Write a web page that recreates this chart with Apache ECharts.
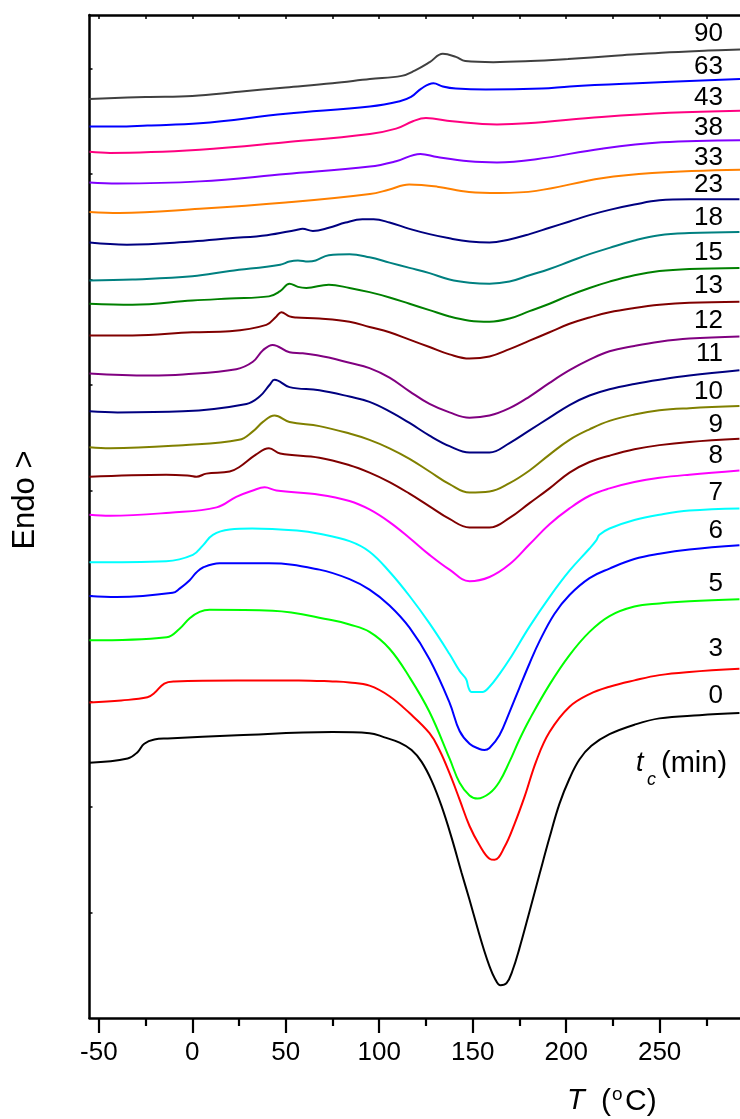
<!DOCTYPE html>
<html>
<head>
<meta charset="utf-8">
<script src="https://cdn.jsdelivr.net/npm/echarts@6/dist/echarts.min.js"></script>
<style>
  html, body { margin: 0; padding: 0; background: #fff; }
  #chart { width: 740px; height: 1119px; }
</style>
</head>
<body>
<div id="chart"></div>
<script>
// Crystallization time t_c (min) of each DSC heating trace, top trace first
const crystTimes = ['90', '63', '43', '38', '33', '23', '18', '15', '13', '12', '11', '10', '9', '8', '7', '6', '5', '3', '0'];

// Heating traces: [temperature (°C), heat flow (a.u., traces shifted vertically)]
const trace90 = [[-55,8.71],[-25,8.73],[0,8.74],[25,8.78],[50,8.82],[75,8.86],[95,8.90],[112,8.93],[119,8.98],[127,9.06],[134,9.14],[141,9.11],[146,9.07],[161,9.06],[181,9.07],[201,9.09],[226,9.12],[251,9.15],[276,9.17],[293,9.18]];
const trace63 = [[-55,8.45],[-40,8.45],[-24,8.46],[4,8.48],[50,8.57],[95,8.64],[111,8.69],[117,8.73],[122.5,8.81],[129,8.86],[134,8.83],[141,8.81],[157,8.80],[187,8.81],[202,8.83],[238,8.86],[293,8.90]];
const trace43 = [[-55,8.21],[-44,8.20],[4,8.23],[50,8.30],[95,8.38],[109,8.43],[118,8.50],[125,8.53],[139,8.50],[163,8.47],[179,8.48],[219,8.54],[255,8.58],[293,8.60]];
const trace38 = [[-55,7.92],[-40,7.91],[4,7.93],[50,8.00],[95,8.07],[109,8.12],[122,8.19],[131,8.16],[148,8.12],[163,8.11],[184,8.14],[219,8.24],[251,8.30],[293,8.32]];
const trace33 = [[-55,7.64],[-39,7.63],[4,7.67],[50,7.73],[95,7.81],[105,7.85],[116,7.90],[131,7.88],[148,7.83],[164,7.82],[184,7.84],[219,7.96],[246,8.01],[293,8.04]];
const trace23 = [[-55,7.35],[-35,7.33],[0,7.36],[20,7.39],[40,7.42],[55.6,7.47],[59,7.48],[64.5,7.46],[73,7.49],[82,7.54],[91,7.57],[97,7.57],[105.5,7.54],[116.2,7.48],[126.9,7.43],[137.6,7.39],[148.3,7.36],[159,7.35],[169.7,7.38],[180.4,7.43],[191.1,7.49],[201.8,7.55],[212.5,7.61],[223.2,7.66],[236.5,7.71],[249.9,7.75],[265.9,7.76],[292.7,7.76]];
const trace18 = [[-55,6.99],[-32,7.00],[0,7.03],[20,7.08],[47,7.14],[52,7.17],[56.5,7.18],[62,7.17],[66,7.18],[73,7.23],[84.1,7.24],[94.8,7.21],[105.5,7.16],[116.2,7.11],[126.9,7.06],[137.6,7.00],[148.3,6.97],[159,6.96],[169.7,6.98],[180.4,7.04],[191.1,7.10],[201.8,7.17],[212.5,7.24],[223.2,7.30],[236.5,7.37],[249.9,7.42],[265.9,7.44],[292.7,7.45]];
const trace15 = [[-55,6.77],[-32,6.76],[0,6.80],[20,6.82],[41,6.84],[47,6.89],[52,6.96],[56.5,6.93],[61,6.92],[73,6.95],[84.1,6.92],[94.8,6.88],[105.5,6.83],[116.2,6.77],[126.9,6.71],[137.6,6.65],[148.3,6.61],[159,6.60],[169.7,6.63],[180.4,6.70],[191.1,6.77],[201.8,6.85],[212.5,6.92],[223.2,6.98],[236.5,7.04],[249.9,7.08],[265.9,7.10],[292.7,7.11]];
const trace13 = [[-55,6.47],[-32,6.47],[0,6.50],[20,6.51],[39.6,6.57],[45,6.65],[47.6,6.69],[52,6.65],[55.6,6.64],[68,6.63],[84.1,6.60],[94.8,6.55],[105.5,6.50],[116.2,6.43],[126.9,6.36],[137.6,6.29],[148.3,6.25],[159,6.27],[169.7,6.34],[180.4,6.42],[191.1,6.50],[201.8,6.58],[212.5,6.64],[223.2,6.69],[236.5,6.73],[249.9,6.76],[265.9,6.78],[292.7,6.79]];
const trace12 = [[-55,6.11],[-23,6.09],[-5,6.10],[23.5,6.15],[32.4,6.22],[37.8,6.33],[43,6.38],[52,6.31],[59,6.30],[73,6.26],[84.1,6.21],[94.8,6.16],[105.5,6.07],[116.2,5.94],[126.9,5.82],[137.6,5.74],[148.3,5.69],[159,5.71],[169.7,5.78],[180.4,5.89],[191.1,6.02],[201.8,6.14],[212.5,6.24],[223.2,6.32],[236.5,6.37],[249.9,6.41],[265.9,6.44],[292.7,6.46]];
const trace11 = [[-55,5.75],[-40,5.74],[-5,5.75],[29,5.82],[36,5.89],[41.3,6.00],[44,6.05],[52,5.98],[68,5.95],[84.1,5.89],[94.8,5.84],[105.5,5.75],[116.2,5.64],[126.9,5.52],[137.6,5.42],[148.3,5.36],[159,5.36],[169.7,5.45],[180.4,5.57],[191.1,5.69],[201.8,5.81],[212.5,5.90],[223.2,5.96],[236.5,6.01],[249.9,6.05],[265.9,6.09],[292.7,6.14]];
const trace10 = [[-55,5.41],[-44,5.40],[-5,5.43],[25,5.48],[32.4,5.56],[37.8,5.65],[44,5.71],[52,5.65],[68,5.61],[84.1,5.54],[94.8,5.48],[105.5,5.40],[116.2,5.30],[126.9,5.18],[137.6,5.06],[148.3,4.98],[159,4.99],[169.7,5.07],[180.4,5.19],[191.1,5.34],[201.8,5.48],[212.5,5.58],[223.2,5.66],[236.5,5.72],[249.9,5.76],[265.9,5.78],[292.7,5.80]];
const trace9 = [[-55,5.13],[-14,5.15],[-1.4,5.14],[2.2,5.13],[7.5,5.16],[20,5.18],[25,5.22],[34,5.34],[41,5.40],[47,5.35],[68,5.31],[84.1,5.24],[94.8,5.17],[105.5,5.08],[116.2,4.97],[126.9,4.85],[137.6,4.73],[148.3,4.65],[159,4.65],[169.7,4.74],[180.4,4.88],[191.1,5.02],[201.8,5.17],[212.5,5.27],[223.2,5.33],[236.5,5.39],[249.9,5.43],[265.9,5.46],[292.7,5.49]];
const trace8 = [[-55,4.77],[-44,4.76],[-12,4.79],[13,4.84],[23.5,4.94],[32.4,5.00],[38.7,5.03],[45,5.00],[68,4.96],[84.1,4.90],[94.8,4.82],[105.5,4.70],[116.2,4.55],[126.9,4.39],[137.6,4.25],[148.3,4.14],[159,4.18],[169.7,4.30],[180.4,4.49],[191.1,4.68],[201.8,4.83],[212.5,4.95],[223.2,5.02],[236.5,5.08],[249.9,5.12],[265.9,5.15],[292.7,5.19]];
const trace7 = [[-55,4.32],[-14,4.33],[0.3,4.39],[5.7,4.48],[11,4.58],[20,4.63],[32,4.64],[56,4.62],[68,4.59],[84.1,4.52],[94.8,4.42],[105.5,4.23],[116.2,4.00],[126.9,3.74],[137.6,3.45],[143,3.29],[146.5,3.21],[147.8,3.13],[149.4,3.09],[152.6,3.09],[155.2,3.09],[159,3.14],[164.3,3.26],[169.7,3.40],[180.4,3.71],[191.1,3.99],[201.8,4.24],[212.5,4.45],[216.2,4.53],[217.8,4.58],[223.2,4.64],[236.5,4.72],[249.9,4.77],[265.9,4.81],[292.7,4.83]];
const trace6 = [[-55,4.00],[-40.5,3.99],[-10.5,4.03],[-6.8,4.07],[-1.4,4.15],[2,4.22],[5.7,4.27],[14.6,4.31],[41,4.31],[68,4.25],[84.1,4.16],[94.8,4.06],[105.5,3.91],[116.2,3.70],[126.9,3.40],[137.6,2.99],[143,2.72],[148.3,2.60],[153.6,2.55],[156.3,2.54],[159,2.56],[164.3,2.68],[169.7,2.90],[175,3.13],[180.4,3.36],[185.7,3.57],[193.7,3.83],[201.8,4.01],[212.5,4.17],[223.2,4.26],[236.5,4.35],[249.9,4.40],[265.9,4.44],[292.7,4.48]];
const trace5 = [[-55,3.58],[-13.7,3.61],[-6.8,3.69],[-1.4,3.79],[3.9,3.85],[9.3,3.87],[43,3.86],[75,3.77],[84.1,3.73],[94.8,3.66],[105.5,3.50],[116.2,3.23],[126.9,2.90],[137.6,2.46],[143,2.23],[148.3,2.11],[152.6,2.08],[159,2.13],[164.3,2.24],[169.7,2.43],[175,2.64],[180.4,2.83],[191.1,3.16],[201.8,3.44],[212.5,3.66],[223.2,3.81],[236.5,3.90],[249.9,3.93],[265.9,3.95],[292.7,3.97]];
const trace3 = [[-55,2.99],[-38,3.01],[-24,3.04],[-20.3,3.08],[-15,3.17],[-9.6,3.19],[24,3.20],[57,3.20],[75,3.19],[84.1,3.18],[94.8,3.15],[105.5,3.05],[116.2,2.89],[126.9,2.70],[132.2,2.54],[137.6,2.32],[143,2.07],[148.3,1.82],[153.6,1.64],[159,1.51],[161.7,1.50],[167,1.62],[172.4,1.84],[177.8,2.10],[184.1,2.44],[191.1,2.71],[201.8,2.95],[212.5,3.07],[223.2,3.14],[236.5,3.20],[249.9,3.25],[265.9,3.28],[292.7,3.31]];
const trace0 = [[-55,2.42],[-34.6,2.46],[-29.3,2.52],[-25.7,2.60],[-20.3,2.64],[-13.2,2.65],[24,2.68],[75,2.71],[94.8,2.70],[102.8,2.66],[110.9,2.61],[117.3,2.54],[122.6,2.43],[128,2.25],[133.3,2.01],[138.7,1.71],[144,1.38],[148.3,1.12],[152.6,0.85],[156.3,0.63],[159,0.49],[161.7,0.38],[164.9,0.31],[168.1,0.33],[171.3,0.45],[175,0.66],[180.4,1.01],[185.7,1.36],[191.1,1.71],[196.4,2.03],[201.8,2.27],[207.1,2.45],[213.5,2.58],[223.2,2.69],[236.5,2.78],[249.9,2.84],[271.3,2.87],[292.7,2.89]];

const traces = [trace90, trace63, trace43, trace38, trace33, trace23, trace18, trace15, trace13, trace12, trace11, trace10, trace9, trace8, trace7, trace6, trace5, trace3, trace0];

// Axis tick values
const majorTicks = [-50, 0, 50, 100, 150, 200, 250];
const minorTicks = [-25, 25, 75, 125, 175, 225, 275];
const heatFlowTicks = [1, 2, 3, 4, 5, 6, 7, 8, 9];

// ---- styling ----
const FONT = '"Liberation Sans", Arial, Helvetica, sans-serif';
const palette = ['#404040', '#0000ff', '#ff0080', '#8000ff', '#ff8000', '#000080', '#008080', '#008000', '#800000', '#800080',
                 '#000080', '#808000', '#800000', '#ff00ff', '#00ffff', '#0000ff', '#00ff00', '#ff0000', '#000000'];
// vertical centre (px) of each t_c tag at the right edge
const tagY = [34, 66.5, 98, 128, 158, 185, 218, 253, 286, 321, 354, 392, 425, 456, 493, 531, 584, 649, 696];

const chart = echarts.init(document.getElementById('chart'), null, { renderer: 'canvas' });

const xCommon = { type: 'value', min: -55, max: 293, splitLine: { show: false } };

const graphics = crystTimes.map((t, i) => ({
  type: 'text', x: 723, y: tagY[i], silent: true,
  style: { text: t, font: '26px ' + FONT, fill: '#000', align: 'right', verticalAlign: 'middle' }
}));
graphics.push(
  { type: 'text', x: 25.5, y: 500, rotation: Math.PI / 2, silent: true,
    style: { text: 'Endo >', font: '31px ' + FONT, fill: '#000', align: 'center', verticalAlign: 'middle' } },
  { type: 'text', x: 636, y: 763, silent: true,
    style: { text: 't', font: 'italic 27px ' + FONT, fill: '#000', align: 'left', verticalAlign: 'middle' } },
  { type: 'text', x: 647, y: 780, silent: true,
    style: { text: 'c', font: 'italic 18px ' + FONT, fill: '#000', align: 'left', verticalAlign: 'middle' } },
  { type: 'text', x: 661, y: 764, silent: true,
    style: { text: '(min)', font: '29px ' + FONT, fill: '#000', align: 'left', verticalAlign: 'middle' } },
  { type: 'text', x: 567, y: 1101, silent: true,
    style: { text: 'T', font: 'italic 29px ' + FONT, fill: '#000', align: 'left', verticalAlign: 'middle' } },
  { type: 'text', x: 601, y: 1102, silent: true,
    style: { text: '(', font: '30px ' + FONT, fill: '#000', align: 'left', verticalAlign: 'middle' } },
  { type: 'text', x: 612, y: 1095, silent: true,
    style: { text: 'o', font: '19px ' + FONT, fill: '#000', align: 'left', verticalAlign: 'middle' } },
  { type: 'text', x: 625, y: 1102, silent: true,
    style: { text: 'C)', font: '30px ' + FONT, fill: '#000', align: 'left', verticalAlign: 'middle' } }
);

const option = {
  animation: false,
  backgroundColor: '#fff',
  grid: { left: 89.5, right: 0, top: 15, bottom: 101, containLabel: false },
  xAxis: [
    Object.assign({}, xCommon, {
      position: 'bottom',
      axisLine: { show: true, onZero: false, lineStyle: { color: '#000', width: 2.5 } },
      axisTick: { show: true, inside: false, length: 15, customValues: majorTicks, lineStyle: { color: '#000', width: 2.2 } },
      axisLabel: { show: true, customValues: majorTicks, margin: 22, color: '#000', fontSize: 26, fontFamily: FONT }
    }),
    Object.assign({}, xCommon, {
      position: 'bottom',
      axisLine: { show: false, onZero: false },
      axisTick: { show: true, inside: false, length: 8, customValues: minorTicks, lineStyle: { color: '#000', width: 2.2 } },
      axisLabel: { show: false }
    }),
    Object.assign({}, xCommon, {
      position: 'top',
      axisLine: { show: true, onZero: false, lineStyle: { color: '#000', width: 2.5 } },
      axisTick: { show: true, inside: true, length: 4, customValues: majorTicks.concat(minorTicks), lineStyle: { color: '#000', width: 1.5 } },
      axisLabel: { show: false }
    })
  ],
  yAxis: {
    type: 'value', min: 0, max: 9.507, position: 'left',
    axisLine: { show: true, onZero: false, lineStyle: { color: '#000', width: 2.5 } },
    axisTick: { show: true, inside: true, length: 3, customValues: heatFlowTicks, lineStyle: { color: '#000', width: 1.5 } },
    axisLabel: { show: false },
    splitLine: { show: false }
  },
  series: traces.map((d, i) => ({
    name: crystTimes[i],
    type: 'line',
    xAxisIndex: 0,
    data: d,
    showSymbol: false,
    symbol: 'none',
    smooth: 0.4,
    smoothMonotone: 'none',
    clip: true,
    silent: true,
    lineStyle: { color: palette[i], width: 2 }
  })),
  graphic: graphics
};

chart.setOption(option);
</script>
</body>
</html>
